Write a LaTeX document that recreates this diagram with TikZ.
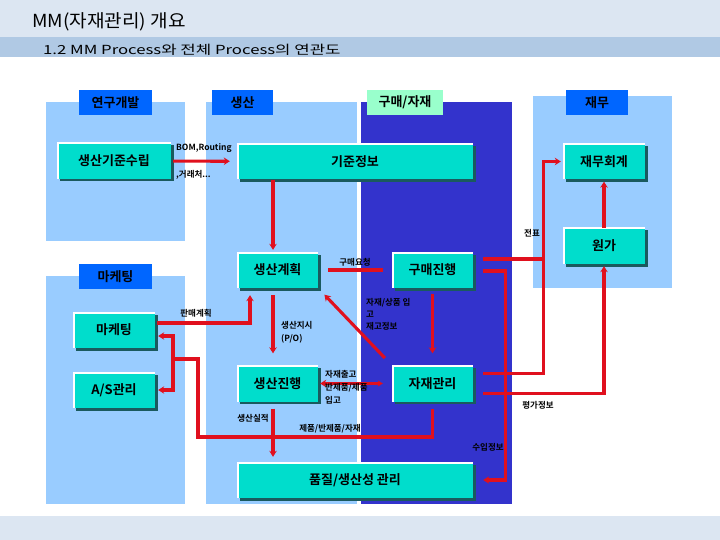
\documentclass[tikz,border=0pt]{standalone}
\usepackage{fontspec}
\setmainfont{Noto Sans CJK KR}[BoldFont={Noto Sans CJK KR Bold}]
\usepackage{tikz}
\usetikzlibrary{arrows.meta,positioning,calc,shadows}
\definecolor{Band}{HTML}{DCE6F2}
\definecolor{Strip}{HTML}{B0C9E4}
\definecolor{Pane}{HTML}{99CCFF}
\definecolor{Deep}{HTML}{3333CC}
\definecolor{HeadBlue}{HTML}{0066FF}
\definecolor{HeadMint}{HTML}{99FFCC}
\definecolor{Teal}{HTML}{00DDCC}
\definecolor{Shade}{HTML}{1A5A5E}
\definecolor{Flow}{HTML}{E0101E}

\begin{document}
\begin{tikzpicture}[x=1pt,y=-1pt,
    box/.style={fill=Teal,minimum height=36pt,inner sep=0pt,
      font=\fontsize{13}{15}\selectfont\bfseries,
      general shadow={fill=Shade,shadow xshift=2.5pt,shadow yshift=-2.5pt},
      path picture={\draw[white,line width=3pt]
        (path picture bounding box.south west) -- (path picture bounding box.north west)
        -- (path picture bounding box.north east);}},
    head/.style={fill=HeadBlue,minimum width=73pt,minimum height=25pt,inner sep=0pt,
      font=\fontsize{13}{15}\selectfont\bfseries},
    flow/.style={draw=Flow,line width=3.1pt,-{Stealth[length=6pt,width=7.5pt]}},
    wire/.style={draw=Flow,line width=3.1pt},
    tag/.style={font=\fontsize{8.5}{10}\selectfont\bfseries,inner sep=0pt}]
  \useasboundingbox (0,0) rectangle (720,540);

  % page bands
  \fill[white] (0,0) rectangle (720,540);
  \fill[Band] (0,0) rectangle (720,37);
  \fill[Strip] (0,37) rectangle (720,57);
  \fill[Band] (0,516) rectangle (720,540);
  \node[anchor=west,inner sep=0pt,font=\fontsize{18}{20}\selectfont] (title) at (32,22) {\scalebox{1.06}[1]{MM(자재관리) 개요}};
  \node[anchor=west,inner sep=0pt,font=\fontsize{12.5}{14}\selectfont] (sub) at (43,50) {\scalebox{1.34}[1]{1.2 MM Process와 전체 Process의 연관도}};

  % department panels
  \fill[Pane] (46,102) rectangle (185,241);
  \fill[Pane] (46,276) rectangle (185,504);
  \fill[Pane] (206,102) rectangle (357,504);
  \fill[Deep] (361,102) rectangle (512,504);
  \fill[Pane] (533,96) rectangle (672,288);

  \node[head] (hrd) at (115.5,102.5) {연구개발};
  \node[head,minimum width=61pt] (hprod) at (242.5,102.5) {생산};
  \node[head,fill=HeadMint,minimum width=76pt] (hpur) at (405,102.5) {구매/자재};
  \node[head,minimum width=62pt] (hfin) at (597,102.5) {재무};
  \node[head] (hmkt) at (115.5,276.5) {마케팅};

  % process boxes
  \node[box,minimum width=114pt] (rd) at (114,161) {생산기준수립};
  \node[box,minimum width=236pt] (basis) at (355,161.5) {기준정보};
  \node[box,minimum width=82pt] (acct) at (604,161.5) {재무회계};
  \node[box,minimum width=82pt] (cost) at (604,246) {원가};
  \node[box,minimum width=81pt] (plan) at (277.5,270) {생산계획};
  \node[box,minimum width=81pt] (purch) at (432.5,270) {구매진행};
  \node[box,minimum width=82pt] (mkt) at (114,330) {마케팅};
  \node[box,minimum width=82pt] (as) at (114,390) {A/S관리};
  \node[box,minimum width=81pt] (prod) at (277.5,383.5) {생산진행};
  \node[box,minimum width=81pt] (mat) at (432.5,383.5) {자재관리};
  \node[box,minimum width=236pt] (qual) at (355,480) {품질/생산성 관리};

  \coordinate (bus) at ([xshift=-19pt]acct.west);
  \coordinate (fork) at (173,359);
  \coordinate (lowrun) at (198,437);

  % connectors
  \draw[flow,shorten <=2pt,shorten >=7pt] (rd) -- (basis);
  \draw[flow,shorten >=2pt] ($(plan.north |- basis.south)+(-4.5,0)$) -- ($(plan.north)+(-4.5,0)$);
  \draw[flow,shorten >=2pt] ($(mat.east)+(10,-10)$) -| (bus) -- (acct.west);
  \draw[wire] ($(purch.east)+(10,-11)$) -| (bus);
  \draw[flow,shorten >=2pt] (cost.north) -- (acct.south);
  \draw[flow,shorten >=2pt] ($(mat.east)+(10,10)$) -| (cost.south);
  \draw[flow,shorten >=10pt] ($(purch.east)+(10,1)$) -| ($(qual.east)+(32,0)$) -- (qual.east);
  \draw[wire,shorten <=10pt,shorten >=9pt] (plan) -- (purch);
  \draw[flow,shorten <=6pt,shorten >=12pt] (purch) -- (mat);
  \draw[flow,shorten <=10pt,shorten >=9pt] (mat.north west) -- (plan.south east);
  \draw[draw=Flow,line width=3.1pt,{Stealth[length=6pt,width=7.5pt]}-{Stealth[length=5pt,width=6pt]},
    shorten <=2pt,shorten >=9pt] (prod) -- (mat);
  \draw[flow,shorten <=7pt,shorten >=12pt] ($(plan.south)+(-4.5,0)$) -- ($(prod.north)+(-4.5,0)$);
  \draw[flow,shorten >=7pt] ($(mkt.east)+(2,-7)$) -| ([xshift=-27.5pt]plan.south);
  \draw[wire] ($(mat.south)+(0,7)$) |- (lowrun) |- (fork);
  \draw[flow,shorten >=3pt] (fork) |- ($(mkt.east)+(0,6)$);
  \draw[flow,shorten >=3pt] (fork) |- (as.east);
  \draw[flow,shorten <=7pt,shorten >=5pt] ($(prod.south)+(-4.5,0)$) -- ($(prod.south |- qual.north)+(-4.5,0)$);

  % connector labels
  \node[tag,anchor=west] (lbom) at (176,148) {BOM,Routing};
  \node[tag,anchor=west] (lven) at (176,175) {,거래처...};
  \node[tag] (lslip) at (532,233) {전표};
  \node[tag] (lval) at (538,405) {평가정보};
  \node[tag] (lin) at (488,447) {수입정보};
  \node[tag] (lreq) at (355,262) {구매요청};
  \node[tag,anchor=north west,align=left,font=\fontsize{8.5}{12}\selectfont\bfseries] (lstock) at (366,298) {자재/상품 입\\고\\재고정보};
  \node[tag,anchor=north west,align=left,font=\fontsize{8.5}{13}\selectfont\bfseries] (lio) at (325,370) {자재출고\\반제품/제품\\입고};
  \node[tag,anchor=north west,align=left,font=\fontsize{8.5}{13}\selectfont\bfseries] (lord) at (281,321) {생산지시\\(P/O)};
  \node[tag] (lsale) at (196,313) {판매계획};
  \node[tag] (lgoods) at (330,429) {제품/반제품/자재};
  \node[tag] (lres) at (253,418) {생산실적};
\end{tikzpicture}
\end{document}
